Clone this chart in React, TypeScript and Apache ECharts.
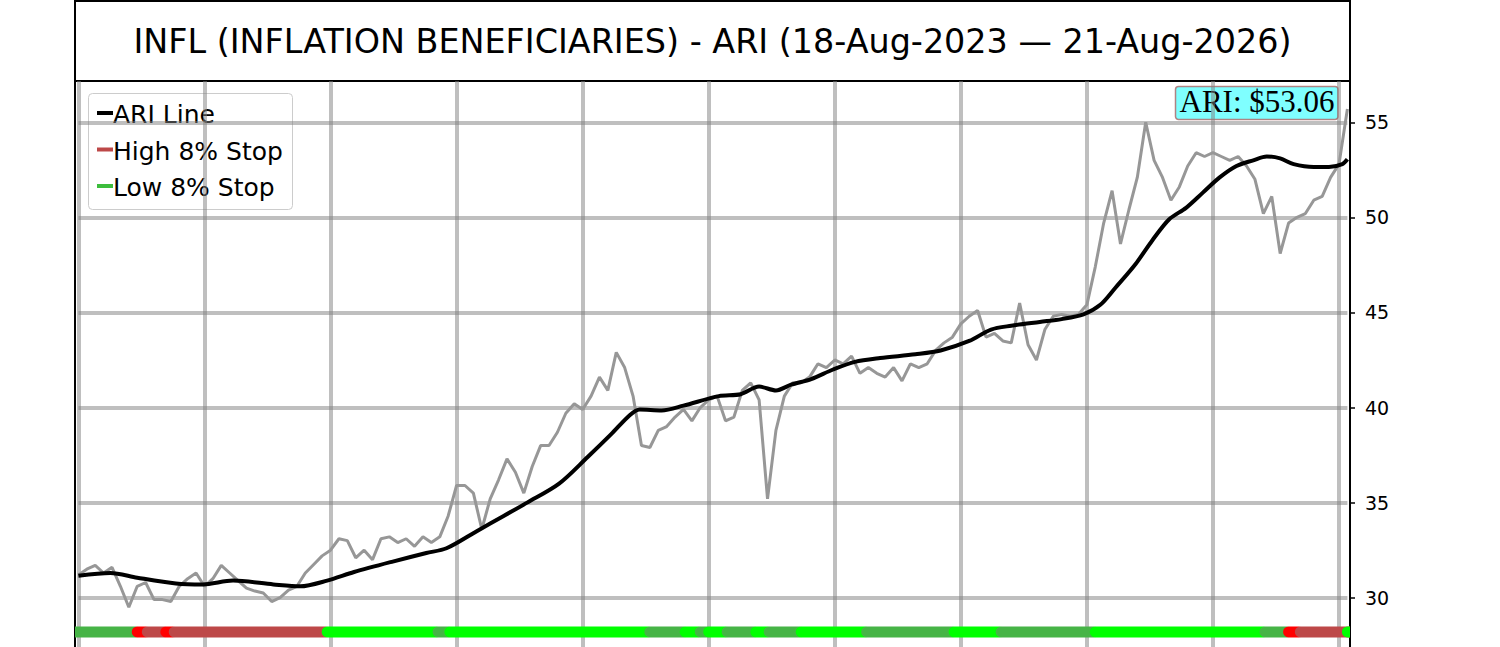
import { useEffect, useRef } from 'react';
import * as echarts from 'echarts';

const TITLE = 'INFL (INFLATION BENEFICIARIES) - ARI (18-Aug-2023 — 21-Aug-2026)';
const LAST_LABEL = 'ARI: $53.06';

// grey price trace, one reading every PRICE_STEP trading days (day 0 .. 755)
const PRICE_STEP = 5;
const priceValues = [
  31.2, 31.5, 31.7, 31.3, 31.6, 30.6, 29.5, 30.6, 30.8, 29.9,
  29.9, 29.8, 30.6, 31.0, 31.3, 30.6, 31.0, 31.7, 31.3, 30.9,
  30.5, 30.35, 30.25, 29.8, 30.0, 30.4, 30.6, 31.3, 31.75, 32.2,
  32.5, 33.1, 33.0, 32.1, 32.5, 32.0, 33.1, 33.2, 32.9, 33.1,
  32.7, 33.2, 32.9, 33.2, 34.3, 35.9, 35.9, 35.5, 33.6, 35.2,
  36.2, 37.3, 36.6, 35.5, 36.9, 38.0, 38.0, 38.7, 39.7, 40.2,
  39.9, 40.6, 41.6, 40.9, 42.9, 42.1, 40.6, 38.0, 37.9, 38.8,
  39.0, 39.5, 39.9, 39.3, 40.0, 40.4, 40.6, 39.3, 39.5, 40.9,
  41.3, 40.4, 35.2, 38.8, 40.6, 41.3, 41.3, 41.6, 42.3, 42.1,
  42.5, 42.3, 42.7, 41.8, 42.1, 41.8, 41.6, 42.1, 41.4, 42.3,
  42.1, 42.3, 43.0, 43.4, 43.7, 44.4, 44.8, 45.1, 43.7, 43.9,
  43.5, 43.4, 45.5, 43.3, 42.5, 44.1, 44.8, 44.9, 44.8, 44.9,
  45.4, 47.4, 49.7, 51.4, 48.6, 50.4, 52.1, 55.0, 53.0, 52.1,
  50.9, 51.6, 52.7, 53.4, 53.2, 53.4, 53.2, 53.0, 53.2, 52.7,
  52.0, 50.2, 51.1, 48.1, 49.7, 50.0, 50.2, 50.9, 51.1, 52.1,
  52.8, 55.7,
];

// ARI line (black), read at irregular trading days
const maDays = [
  0, 19, 35, 58, 74, 92, 116, 132, 148, 164, 187, 207, 219, 237, 253, 267, 286,
  303, 317, 328, 334, 347, 360, 381, 394, 405, 415, 424, 436, 449, 462, 477, 498,
  513, 530, 543, 555, 572, 585, 598, 608, 617, 629, 639, 649, 659, 669, 679, 689,
  699, 707, 715, 723, 735, 744, 752, 755,
];
const maValues = [
  31.15, 31.3, 31.05, 30.75, 30.7, 30.9, 30.7, 30.6, 30.9, 31.35, 31.9, 32.35, 32.6, 33.5, 34.3, 35.0, 36.0,
  37.4, 38.6, 39.6, 39.9, 39.85, 40.1, 40.6, 40.7, 41.1, 40.9, 41.2, 41.5, 42.0, 42.4, 42.6, 42.8,
  43.0, 43.5, 44.1, 44.3, 44.5, 44.65, 44.9, 45.4, 46.3, 47.55, 48.8, 49.9, 50.5, 51.3, 52.1, 52.7,
  53.0, 53.2, 53.1, 52.8, 52.65, 52.65, 52.8, 53.05,
];

// stop band along the bottom: run start days and their state
const bandStarts = [0, 35, 41, 52, 57, 148, 214, 221, 340, 361, 370, 375, 386, 403, 411, 430, 469, 521, 549, 605, 706, 720, 727, 755];
const bandStates = [
  'low', 'highHit', 'high', 'highHit', 'high', 'lowHit', 'low', 'lowHit', 'low', 'lowHit', 'low', 'lowHit',
  'low', 'lowHit', 'low', 'lowHit', 'low', 'lowHit', 'low', 'lowHit', 'low', 'highHit', 'high', 'lowHit',
];
const LAST_DAY = 755;
const BAND_LEVEL = 28.2;

const BAND_COLORS: Record<string, string> = {
  low: '#46b446',
  lowHit: '#00ff00',
  high: '#bd4848',
  highHit: '#ff0000',
};

const legendNames = ['ARI Line', 'High 8% Stop', 'Low 8% Stop'];
const legendColors = ['#000000', '#bd4848', '#3dbd3d'];
const legendRows = [113, 149.5, 186];

const GRID_COLOR = 'rgba(128,128,128,0.5)';
const FONT = 'DejaVu Sans';

export default function App() {
  const chartRef = useRef<HTMLDivElement>(null);

  useEffect(() => {
    if (!chartRef.current) return;
    const chart = echarts.init(chartRef.current, null, { renderer: 'svg' });

    const price = priceValues.map((v, i) => [i * PRICE_STEP, v]);
    const ma = maDays.map((d, i) => [d, maValues[i]]);
    const band = bandStarts.map((s, i) => [
      s,
      i < bandStarts.length - 1 ? bandStarts[i + 1] - 1 : LAST_DAY,
      BAND_LEVEL,
      i,
    ]);

    const legendGraphics: any[] = [
      {
        type: 'rect',
        silent: true,
        shape: { x: 88.5, y: 93.5, width: 204, height: 116, r: 4 },
        style: { fill: 'rgba(255,255,255,0.8)', stroke: '#cccccc', lineWidth: 1 },
      },
    ];
    legendNames.forEach((name, i) => {
      legendGraphics.push({
        type: 'line',
        silent: true,
        shape: { x1: 97, y1: legendRows[i], x2: 113, y2: legendRows[i] },
        style: { stroke: legendColors[i], lineWidth: 4 },
      });
      legendGraphics.push({
        type: 'text',
        silent: true,
        x: 113,
        y: legendRows[i] + 1.5,
        style: {
          text: name,
          fill: '#000',
          font: `25px "${FONT}"`,
          textAlign: 'left',
          textVerticalAlign: 'middle',
        },
      });
    });

    chart.setOption({
      animation: false,
      textStyle: { fontFamily: FONT },
      grid: { left: 78.4, right: 152.6, top: 81, bottom: 7.2 },
      xAxis: {
        type: 'value',
        min: 0,
        max: LAST_DAY,
        interval: 75,
        axisLine: { show: false },
        axisTick: { show: false },
        axisLabel: { show: false },
        splitLine: { show: true, showMaxLine: false, lineStyle: { color: GRID_COLOR, width: 4 } },
      },
      yAxis: {
        type: 'value',
        position: 'right',
        min: 25,
        max: 57.17,
        interval: 5,
        offset: 2.6,
        axisLine: { show: true, onZero: false, lineStyle: { color: '#000', width: 2 } },
        axisTick: { show: true, length: 5, lineStyle: { color: '#000', width: 1.5 } },
        axisLabel: {
          color: '#000',
          fontSize: 19,
          fontFamily: FONT,
          margin: 15,
          showMaxLabel: false,
          showMinLabel: false,
        },
        splitLine: { show: true, showMaxLine: false, lineStyle: { color: GRID_COLOR, width: 4 } },
      },
      series: [
        {
          name: 'Price',
          type: 'line',
          data: price,
          showSymbol: false,
          lineStyle: { color: '#979797', width: 3 },
        },
        {
          name: 'ARI Line',
          type: 'line',
          data: ma,
          smooth: 0.3,
          showSymbol: false,
          lineStyle: { color: '#000000', width: 4 },
        },
        {
          name: 'Stops',
          type: 'custom',
          data: band,
          encode: { x: [0, 1], y: 2 },
          renderItem: (params: any, api: any) => {
            const cs = params.coordSys;
            const leftEdge = cs.x - 3.4;
            const rightEdge = cs.x + cs.width + 2.6;
            const a = api.coord([api.value(0), BAND_LEVEL]);
            const b = api.coord([api.value(1), BAND_LEVEL]);
            let x0 = a[0] - 5.5;
            let x1 = b[0] + 5.5;
            const clipL = x0 < leftEdge;
            const clipR = x1 > rightEdge;
            x0 = Math.max(x0, leftEdge);
            x1 = Math.min(x1, rightEdge);
            const state = bandStates[api.value(3)];
            return {
              type: 'rect',
              shape: {
                x: x0,
                y: a[1] - 5.5,
                width: x1 - x0,
                height: 11,
                r: [clipL ? 0 : 5.5, clipR ? 0 : 5.5, clipR ? 0 : 5.5, clipL ? 0 : 5.5],
              },
              style: { fill: BAND_COLORS[state] },
            };
          },
        },
      ],
      graphic: [
        {
          type: 'line',
          silent: true,
          shape: { x1: 75, y1: 0, x2: 75, y2: 700 },
          style: { stroke: '#000', lineWidth: 2 },
        },
        {
          type: 'rect',
          silent: true,
          shape: { x: 75, y: 1, width: 1275, height: 80 },
          style: { fill: '#fff', stroke: '#000', lineWidth: 2 },
        },
        {
          type: 'text',
          silent: true,
          x: 712.5,
          y: 41.5,
          style: {
            text: TITLE,
            fill: '#000',
            font: `33.4px "${FONT}"`,
            textAlign: 'center',
            textVerticalAlign: 'middle',
          },
        },
        ...legendGraphics,
        {
          type: 'rect',
          silent: true,
          shape: { x: 1175.5, y: 86.5, width: 162.5, height: 33, r: 3 },
          style: { fill: 'rgba(0,255,255,0.5)', stroke: 'rgba(170,90,90,0.75)', lineWidth: 1.5 },
        },
        {
          type: 'text',
          silent: true,
          x: 1257,
          y: 101,
          style: {
            text: LAST_LABEL,
            fill: '#000',
            font: '31px "Liberation Serif"',
            textAlign: 'center',
            textVerticalAlign: 'middle',
          },
        },
      ],
    });

    return () => chart.dispose();
  }, []);

  return (
    <div
      style={{
        position: 'fixed',
        left: 0,
        top: 0,
        width: 1500,
        height: 647,
        overflow: 'hidden',
        background: '#fff',
      }}
    >
      <div ref={chartRef} style={{ width: 1500, height: 700 }} />
    </div>
  );
}
